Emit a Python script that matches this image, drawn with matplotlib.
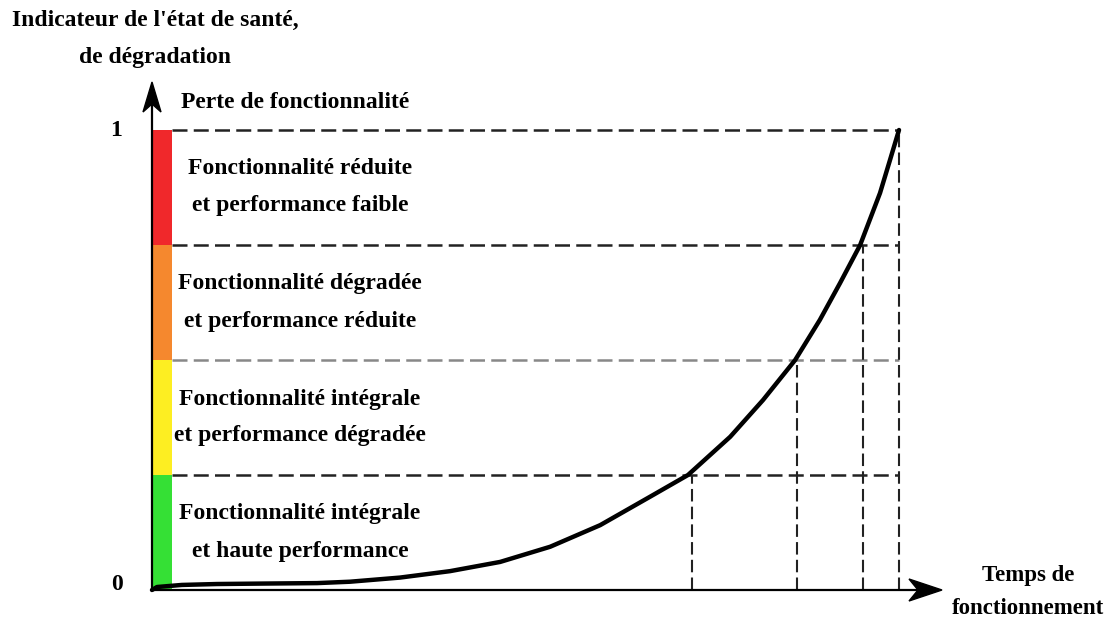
import numpy as np
import matplotlib.pyplot as plt
from matplotlib.patches import Polygon

plt.rcParams['font.family'] = ['Liberation Serif', 'DejaVu Serif']
plt.rcParams['font.weight'] = 'bold'

# degradation curve (time normalised 0..1)
t_curve = [0.0, 0.0067, 0.04, 0.087, 0.15, 0.221, 0.265, 0.332, 0.399, 0.466, 0.533,
           0.600, 0.667, 0.7175, 0.774, 0.818, 0.861, 0.894, 0.921, 0.948, 0.9746,
           0.988, 1.0]
y_curve = [0.0, 0.0065, 0.011, 0.013, 0.014, 0.015, 0.018, 0.027, 0.041, 0.061, 0.094,
           0.141, 0.203, 0.25, 0.333, 0.413, 0.5, 0.587, 0.667, 0.75, 0.863,
           0.935, 1.0]

levels = [0.0, 0.25, 0.5, 0.75, 1.0]
crossing_t = [0.723, 0.863, 0.952, 1.0]
band_colors = ['#35e035', '#fdee22', '#f5882e', '#f0282b']
line_colors = ['#222222', '#888888', '#222222', '#222222']
band_labels = ["Fonctionnalité intégrale\net haute performance",
               "Fonctionnalité intégrale\net performance dégradée",
               "Fonctionnalité dégradée\net performance réduite",
               "Fonctionnalité réduite\net performance faible"]

fig = plt.figure(figsize=(11.07, 6.18), dpi=100)
ax = fig.add_axes([0, 0, 1, 1])
# pixel mapping: x=0 at 152px, x=1 at 899px ; y=0 at 590px, y=1 at 130px
sx, sy = 747.0, 460.0
ax.set_xlim(-152 / sx, (1107 - 152) / sx)
ax.set_ylim(-(618 - 590) / sy, 590 / sy)
ax.axis('off')

# colour bar along the y axis
ax.bar([10 / sx] * 4, np.diff(levels), width=19 / sx, bottom=levels[:-1],
       color=band_colors, align='center', edgecolor='none', zorder=2)

# dashed guides
for lv, tc, lc in zip(levels[1:], crossing_t, line_colors):
    ax.plot([20 / sx, 1.0], [lv, lv], color=lc, lw=1.8, dashes=(6, 2.5), zorder=1)
    ax.plot([tc, tc], [0, lv], color='#222222', lw=1.5, dashes=(6, 2.5), zorder=1)

# curve
ax.plot(t_curve, y_curve, color='black', lw=3.2, solid_capstyle='round',
        solid_joinstyle='round', zorder=4)

# axes with arrow heads
x_end = (942 - 152) / sx
y_end = (590 - 82) / sy
ax.plot([0, x_end - 20 / sx], [0, 0], color='black', lw=1.6, zorder=3)
ax.plot([0, 0], [0, y_end - 20 / sy], color='black', lw=1.6, zorder=3)
ax.add_patch(Polygon([(x_end, 0), (x_end - 33 / sx, 11 / sy),
                      (x_end - 24 / sx, 0), (x_end - 33 / sx, -11 / sy)],
                     closed=True, color='black', zorder=3))
ax.add_patch(Polygon([(0, y_end), (-9 / sx, y_end - 30 / sy),
                      (0, y_end - 22 / sy), (9 / sx, y_end - 30 / sy)],
                     closed=True, color='black', zorder=3))

fs = 17
for lv, lab in zip(levels[:-1], band_labels):
    ax.text(148 / sx, lv + 0.125, lab, ha='center', va='center', fontsize=fs,
            linespacing=2.0, fontweight='bold')
ax.text(29 / sx, (590 - 103) / sy, "Perte de fonctionnalité", ha='left', va='center',
        fontsize=fs, fontweight='bold')
ax.text(3 / sx, (590 - 39) / sy, "Indicateur de l'état de santé,\nde dégradation",
        ha='center', va='center', fontsize=fs, linespacing=2.0, fontweight='bold')
ax.text((1028 - 152) / sx, (590 - 592) / sy, "Temps de\nfonctionnement",
        ha='center', va='center', fontsize=16.5, linespacing=1.8, fontweight='bold')
ax.text(-36 / sx, 1.0, "1", ha='center', va='center', fontsize=fs, fontweight='bold')
ax.text(-35 / sx, (590 - 585) / sy, "0", ha='center', va='center', fontsize=fs,
        fontweight='bold')

fig.savefig('out.png', dpi=100)
